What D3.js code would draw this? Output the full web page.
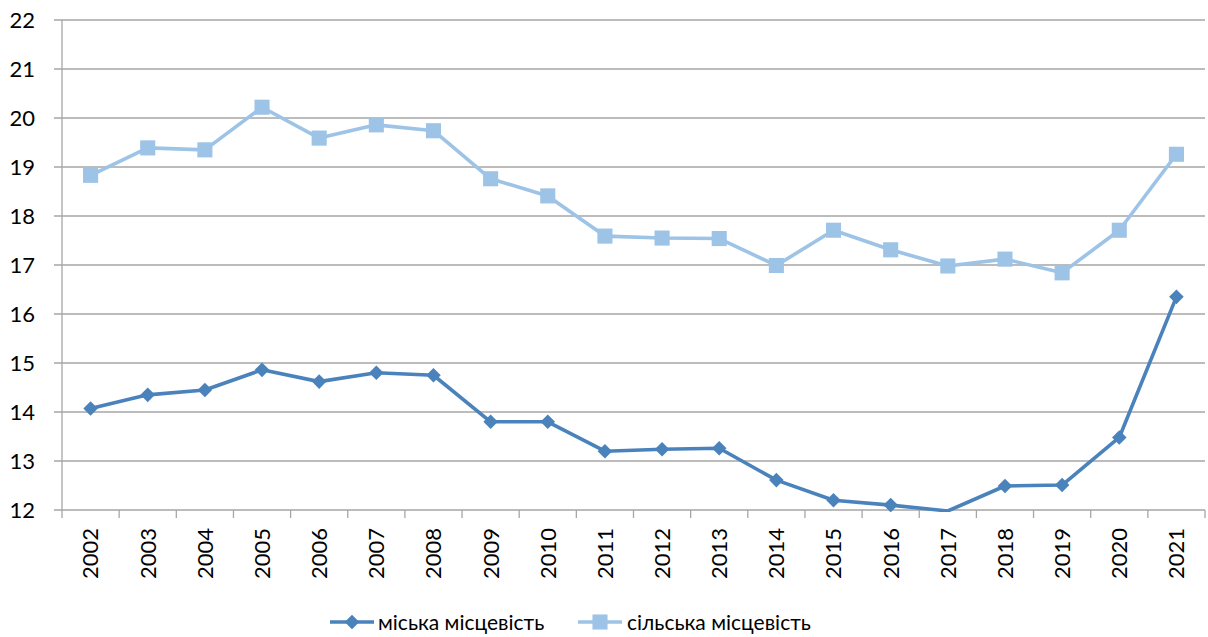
<!DOCTYPE html>
<html><head><meta charset="utf-8">
<script src="https://cdn.jsdelivr.net/npm/d3@7"></script>
<style>body{margin:0;background:#fff}svg{display:block}text{font-family:Lato,"Open Sans",sans-serif;fill:#000}</style>
</head><body><svg id="c" width="1208" height="637"></svg>
<script>
const years = ["2002","2003","2004","2005","2006","2007","2008","2009","2010","2011","2012","2013","2014","2015","2016","2017","2018","2019","2020","2021"];
const urban = [14.07,14.35,14.45,14.86,14.62,14.80,14.75,13.80,13.80,13.20,13.24,13.26,12.61,12.20,12.10,11.98,12.49,12.51,13.48,16.35];
const rural = [18.83,19.39,19.35,20.22,19.59,19.86,19.74,18.76,18.41,17.59,17.55,17.54,16.99,17.71,17.31,16.98,17.12,16.84,17.71,19.26];
const yTicks = [12,13,14,15,16,17,18,19,20,21,22];
const seriesNames = ["міська місцевість","сільська місцевість"];
const colors = ["#4A83BC","#9DC3E6"];

const svg = d3.select("#c");
const L=62, R=1205, T=20, B=510;
const x = d3.scaleBand().domain(years).range([L,R]);
const y = d3.scaleLinear().domain([12,22]).range([B,T]);

svg.append("g").selectAll("line").data(yTicks).join("line")
  .attr("x1",L-8).attr("x2",R).attr("y1",d=>y(d)).attr("y2",d=>y(d))
  .attr("stroke","#A6A6A6").attr("stroke-width",1.3);
svg.append("line").attr("x1",L).attr("x2",L).attr("y1",T).attr("y2",B+8).attr("stroke","#A6A6A6").attr("stroke-width",1.3);
const bounds = years.map(d=>x(d)).concat([R]);
svg.append("g").selectAll("line").data(bounds.slice(1)).join("line")
  .attr("x1",d=>d).attr("x2",d=>d).attr("y1",B).attr("y2",B+8).attr("stroke","#A6A6A6").attr("stroke-width",1.3);
svg.append("g").selectAll("text").data(yTicks).join("text")
  .attr("x",L-27).attr("y",d=>y(d)).attr("dy","0.36em").attr("text-anchor","end")
  .style("font-size","22px").text(d=>d);
svg.append("g").selectAll("text").data(years).join("text")
  .attr("transform",d=>`translate(${x(d)+x.bandwidth()/2},${B+18}) rotate(-90)`)
  .attr("text-anchor","end").attr("dy","0.36em").style("font-size","22px").text(d=>d);

svg.append("clipPath").attr("id","clip").append("rect").attr("x",L).attr("y",T-20).attr("width",R-L+10).attr("height",B-T+22);
const plot = svg.append("g").attr("clip-path","url(#clip)");
const line = d3.line().x((d,i)=>x(years[i])+x.bandwidth()/2).y(d=>y(d));
const data=[urban,rural];
const sym=[d3.symbolDiamond2, d3.symbolSquare2];
const sz=[135,290];
[1,0].forEach(k=>{
  plot.append("path").datum(data[k]).attr("d",line).attr("fill","none").attr("stroke",colors[k]).attr("stroke-width",3.6).attr("stroke-linejoin","round");
  plot.append("g").selectAll("path").data(data[k].map((v,i)=>({v,i})).filter(d=>d.v>=12)).join("path")
    .attr("transform",d=>`translate(${x(years[d.i])+x.bandwidth()/2},${y(d.v)})`)
    .attr("d",d3.symbol().type(sym[k]).size(sz[k])).attr("fill",colors[k]);
});

const leg=[{x:330,t:378},{x:578,t:627}];
leg.forEach((p,k)=>{
  const g=svg.append("g");
  g.append("line").attr("x1",p.x).attr("x2",p.x+44).attr("y1",622).attr("y2",622).attr("stroke",colors[k]).attr("stroke-width",3.6);
  g.append("path").attr("transform",`translate(${p.x+22},622)`).attr("d",d3.symbol().type(sym[k]).size(sz[k])).attr("fill",colors[k]);
  g.append("text").attr("x",p.t).attr("y",622).attr("dy","0.36em").style("font-size","21px").text(seriesNames[k]);
});
</script></body></html>
